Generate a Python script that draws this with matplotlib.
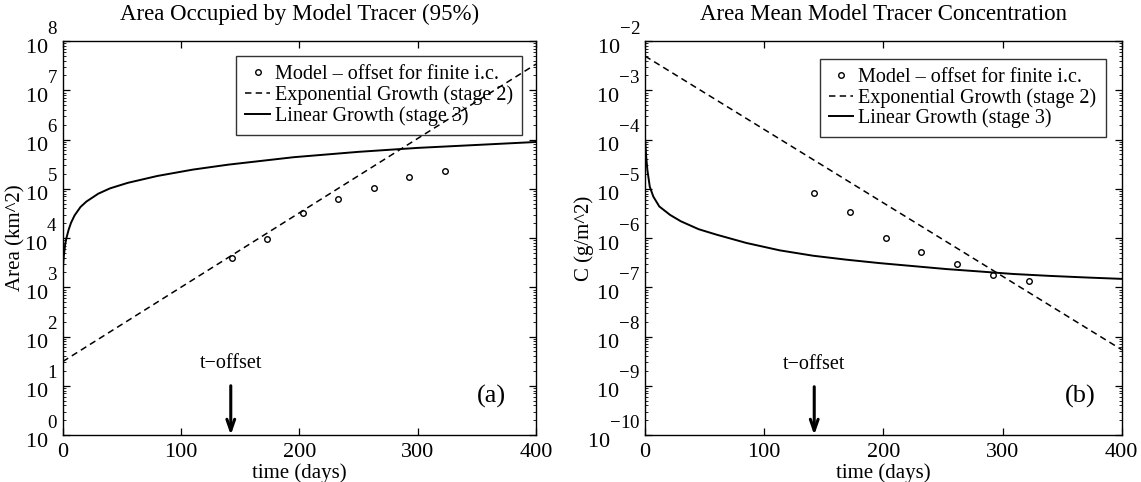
import numpy as np
import matplotlib
matplotlib.use("Agg")
from matplotlib import pyplot as plt
from matplotlib.ticker import FixedLocator, LogLocator, NullFormatter, LogFormatterMathtext
from matplotlib.transforms import ScaledTranslation
import matplotlib._mathtext as mtext

# bigger, higher exponents like the old matlab tick labels
mtext.SHRINK_FACTOR = 0.85
mtext.FontConstantsBase.sup1 = 1.9

# ---- panel (a): area occupied by tracer ----
days_model_a = [143, 173, 203, 233, 263, 293, 323]
area_model = [3.98e3, 9.55e3, 3.16e4, 6.31e4, 1.02e5, 1.74e5, 2.29e5]
days_exp_a = [0, 400]
area_exp = [31, 3.4e7]
days_lin_a = [0, 0.5, 1, 2, 3, 5, 7, 10, 15, 20, 30, 40, 55, 80, 110, 140, 195, 250, 300, 350, 400]
area_lin = [1.95e3, 3.31e3, 4.57e3, 7.24e3, 9.77e3, 1.48e4, 2.04e4, 2.88e4, 4.27e4, 5.50e4,
            7.94e4, 1.02e5, 1.32e5, 1.82e5, 2.45e5, 3.09e5, 4.37e5, 5.62e5, 6.76e5, 7.76e5, 8.91e5]

# ---- panel (b): area mean concentration ----
days_model_b = [142, 172, 202, 232, 262, 292, 322]
conc_model = [8.1e-6, 3.4e-6, 1.0e-6, 5.1e-7, 3.0e-7, 1.78e-7, 1.35e-7]
days_exp_b = [0, 400]
conc_exp = [4.95e-3, 5.4e-9]
days_lin_b = [0, 1, 2, 4, 7, 12, 21, 30, 45, 60, 85, 113, 141, 169, 197, 225, 253, 281, 309, 340, 370, 400]
conc_lin = [1.07e-4, 4.47e-5, 2.40e-5, 1.10e-5, 6.92e-6, 4.37e-6, 2.95e-6, 2.19e-6, 1.51e-6, 1.17e-6,
            7.94e-7, 5.62e-7, 4.37e-7, 3.63e-7, 3.09e-7, 2.69e-7, 2.34e-7, 2.09e-7, 1.86e-7, 1.70e-7,
            1.58e-7, 1.48e-7]

legend_labels = ["Model \u2013 offset for finite i.c.",
                 "Exponential Growth (stage 2)",
                 "Linear Growth (stage 3)"]
t_offset = 142

plt.rcParams['font.family'] = ['Liberation Serif', 'DejaVu Serif']
plt.rcParams['mathtext.fontset'] = 'custom'
plt.rcParams['mathtext.rm'] = 'Liberation Serif'
plt.rcParams['mathtext.it'] = 'Liberation Serif:italic'
plt.rcParams['mathtext.bf'] = 'Liberation Serif:bold'

fig = plt.figure(figsize=(11.41, 4.82), dpi=100)
ax1 = fig.add_axes([0.0550, 0.0975, 0.4148, 0.8174])
ax2 = fig.add_axes([0.5653, 0.0975, 0.4178, 0.8174])


def style_axes(ax, lo_exp, hi_exp):
    ax.set_yscale('log')
    ax.set_xlim(0, 400)
    ax.set_ylim(10.0 ** lo_exp, 10.0 ** hi_exp)
    ax.set_xticks([0, 100, 200, 300, 400])
    ax.yaxis.set_major_locator(FixedLocator([10.0 ** k for k in range(lo_exp, hi_exp + 1)]))
    ax.yaxis.set_minor_locator(LogLocator(base=10, subs=np.arange(2, 10), numticks=300))
    ax.yaxis.set_minor_formatter(NullFormatter())
    ax.yaxis.set_major_formatter(LogFormatterMathtext())
    ax.tick_params(which='both', direction='in', top=True, right=True, labelsize=16)
    ax.tick_params(which='major', length=5, width=0.9)
    ax.tick_params(which='minor', length=2.5, width=0.6)
    ax.tick_params(axis='x', pad=5.5)
    ax.tick_params(axis='y', pad=3.5)
    for s in ax.spines.values():
        s.set_linewidth(1.0)
    ax.set_xlabel('time (days)', fontsize=15, labelpad=1)
    # nudge the "10^k" labels up a little so the 10 sits on the tick
    shift = ScaledTranslation(0, 0.035, fig.dpi_scale_trans)
    for lab in ax.get_yticklabels():
        lab.set_transform(lab.get_transform() + shift)


def draw_panel(ax, dm, ym, de, ye, dl, yl):
    ax.plot(dm, ym, 'o', ms=4, mfc='none', mec='k', mew=1.0, label=legend_labels[0])
    ax.plot(de, ye, 'k--', lw=1.1, dashes=(4.2, 2.8), label=legend_labels[1])
    ax.plot(dl, yl, 'k-', lw=1.4, label=legend_labels[2])


def add_legend(ax, x1, y1):
    leg = ax.legend(loc='upper right', bbox_to_anchor=(x1, y1), borderaxespad=0,
                    fontsize=14.5, handlelength=1.2, handletextpad=0.25, labelspacing=0.05,
                    borderpad=0.45, fancybox=False, facecolor='none', edgecolor='k')
    leg.get_frame().set_linewidth(1.0)


def add_arrow(ax, ybot, ytop, ytext):
    ax.annotate('', xy=(t_offset, ybot), xytext=(t_offset, ytop),
                arrowprops=dict(arrowstyle='->,head_length=0.8,head_width=0.28',
                                lw=2.2, color='k', shrinkA=0, shrinkB=0))
    ax.text(t_offset, ytext, 't\u2212offset', ha='center', va='center', fontsize=14.5)


# panel (a)
draw_panel(ax1, days_model_a, area_model, days_exp_a, area_exp, days_lin_a, area_lin)
style_axes(ax1, 0, 8)
ax1.set_title('Area Occupied by Model Tracer (95%)', fontsize=16.5, pad=15)
ax1.set_ylabel('Area (km^2)', fontsize=15)
ax1.yaxis.set_label_coords(-0.079, 0.5)
add_legend(ax1, 0.970, 0.962)
add_arrow(ax1, 1e0, 1e1, 10 ** 1.46)
ax1.text(362, 10 ** 0.79, '(a)', ha='center', va='center', fontsize=19)

# panel (b)
draw_panel(ax2, days_model_b, conc_model, days_exp_b, conc_exp, days_lin_b, conc_lin)
style_axes(ax2, -10, -2)
ax2.set_title('Area Mean Model Tracer Concentration', fontsize=16.5, pad=15)
ax2.set_ylabel('C (g/m^2)', fontsize=15)
ax2.yaxis.set_label_coords(-0.106, 0.5)
add_legend(ax2, 0.966, 0.955)
add_arrow(ax2, 1e-10, 10 ** -9.02, 10 ** -8.57)
ax2.text(365, 10 ** -9.21, '(b)', ha='center', va='center', fontsize=19)

fig.savefig('out.png', dpi=100)
